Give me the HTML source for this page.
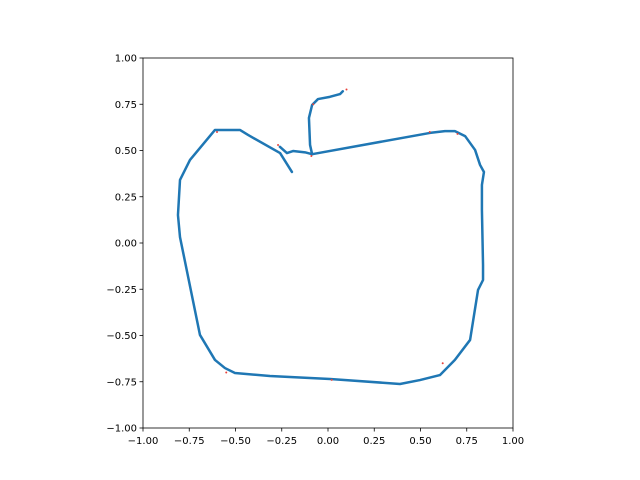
<!DOCTYPE html>
<html><head><meta charset="utf-8"><style>body{margin:0;background:#fff}svg{display:block}</style></head>
<body>
<svg id="chart" width="640" height="480" xmlns="http://www.w3.org/2000/svg" font-family="DejaVu Sans, Liberation Sans, sans-serif" font-size="10"></svg>
<script>
const ticks=[-1,-0.75,-0.5,-0.25,0,0.25,0.5,0.75,1];
const tickLabels=["−1.00","−0.75","−0.50","−0.25","0.00","0.25","0.50","0.75","1.00"];
const branchX=[0.08,0.065,0.01,-0.054,-0.086,-0.103,-0.097,-0.086,-0.124,-0.189,-0.222,-0.26];
const branchY=[0.82,0.805,0.79,0.778,0.746,0.676,0.53,0.48,0.49,0.497,0.486,0.52];
const loopX=[-0.086,0.551,0.632,0.686,0.741,0.795,0.822,0.843,0.832,0.832,0.838,0.838,0.811,0.768,0.686,0.605,0.497,0.389,0.011,-0.314,-0.503,-0.557,-0.611,-0.692,-0.8,-0.811,-0.8,-0.746,-0.611,-0.476,-0.432,-0.259,-0.195];
const loopY=[0.48,0.595,0.605,0.605,0.578,0.503,0.422,0.384,0.314,0.178,-0.119,-0.2,-0.254,-0.524,-0.632,-0.714,-0.741,-0.762,-0.735,-0.719,-0.703,-0.676,-0.632,-0.497,0.032,0.151,0.341,0.449,0.611,0.611,0.584,0.486,0.384];
const redX=[0.1,-0.27,-0.08,-0.09,0.55,0.02,-0.55,0.7,-0.6,0.62];
const redY=[0.83,0.53,0.75,0.47,0.6,-0.74,-0.7,0.59,0.6,-0.65];
const L=143,R=513,T=58,B=428;
const sx=v=>L+(v+1)/2*(R-L), sy=v=>B-(v+1)/2*(B-T);
const svg=document.getElementById('chart');const NS='http://www.w3.org/2000/svg';
function mk(t,a,p){const e=document.createElementNS(NS,t);for(const k in a)e.setAttribute(k,a[k]);(p||svg).appendChild(e);return e;}
function line(xs,ys,name){const pts=xs.map((x,i)=>sx(x)+','+sy(ys[i])).join(' ');
const e=mk('polyline',{points:pts,fill:'none',stroke:'#1f77b4','stroke-width':2.5,'stroke-linejoin':'round','stroke-linecap':'round'});

}
line(loopX,loopY,'trajectory-loop');
line(branchX,branchY,'trajectory-branch');
redX.forEach((x,i)=>{const c=mk('circle',{cx:sx(x),cy:sy(redY[i]),r:1,fill:'#e8423a'});

});
const f=mk('rect',{x:L,y:T,width:R-L,height:B-T,fill:'none',stroke:'#000','stroke-width':0.8});


ticks.forEach((t,i)=>{
mk('line',{x1:sx(t),x2:sx(t),y1:B,y2:B+3.5,stroke:'#000','stroke-width':0.8});
const tx=mk('text',{x:sx(t),y:B+16,'text-anchor':'middle'});tx.textContent=tickLabels[i];


mk('line',{x1:L-3.5,x2:L,y1:sy(t),y2:sy(t),stroke:'#000','stroke-width':0.8});
const ty=mk('text',{x:L-6,y:sy(t)+3.5,'text-anchor':'end'});ty.textContent=tickLabels[i];


});
</script>
</body></html>
